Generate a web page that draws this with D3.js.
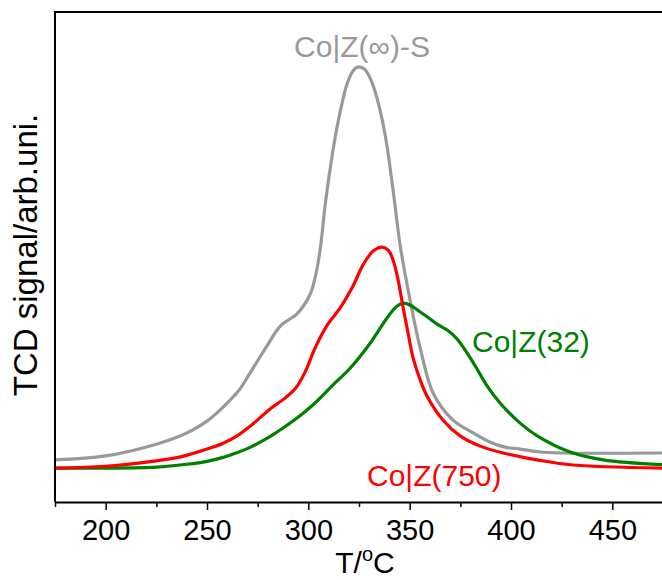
<!DOCTYPE html>
<html>
<head>
<meta charset="utf-8">
<script src="https://cdn.jsdelivr.net/npm/d3@7/dist/d3.min.js"></script>
<style>
  html, body { margin: 0; padding: 0; background: #fff; }
  svg { display: block; }
  text { font-family: "Liberation Sans", Arial, sans-serif; }
</style>
</head>
<body>
<script>
// Temperature (°C) and TCD signal (arb. units)
const grayT = [175,200,225,237,243,250,256,261.4,266,271.2,278.6,286.1,290.0,294.4,300.9,303.3,305.8,308.3,310.7,313.2,315.7,319.1,322.1,324.6,327.5,330.5,333.9,337.9,341.8,345.3,350.2,355.2,361.6,371.4,381.3,389.7,397.1,404.5,414.4,424.3,475];
const grayV = [8.6,9.4,11.8,13.5,14.7,16.5,18.6,20.8,22.9,26.3,31.2,35.9,37.1,38.4,42.4,45.7,51.4,60.6,67.8,74.3,79.6,85.3,88.0,88.8,88.4,86.5,82.4,74.9,63.7,52.4,41.2,31.4,22.2,16.7,14.1,12.2,11.2,10.8,10.2,10.0,10.0];

const redT = [175,200,225,237,250,258,264.8,273.7,281.1,288.5,293.9,298.4,303.3,309.3,315.7,321.6,327.0,332.0,336.4,339.4,341.8,344.3,346.8,349.2,351.7,355.2,358.6,366.5,374.9,384.8,396.1,412.9,429.2,475];
const redV = [6.9,7.3,8.4,9.2,10.8,12.0,13.5,16.3,19.0,21.2,23.3,26.5,31.4,36.1,39.6,43.7,48.4,51.2,52.0,51.4,49.4,45.3,39.6,34.5,29.4,24.9,21.6,16.7,13.5,11.4,10.0,8.6,7.6,6.9];

const greenT = [175,200,225,240,250,258,265,271,276.2,282,287.5,295.9,303.3,312.2,320.6,330.5,338.9,343.3,346.8,350.2,353.7,358.6,363.5,368.5,372.9,377.4,382.3,388.2,394.6,404.5,412.9,429.2,445.5,475];
const greenV = [6.9,6.9,7.1,7.7,8.3,9.1,10.1,11.1,12.2,13.6,15.1,17.6,20.2,23.9,27.3,32.4,37.6,39.8,40.6,40.2,39.2,37.8,36.3,35.1,33.5,31.0,27.8,23.7,20.2,16.1,13.5,10.2,8.6,7.6];

const seriesNames = ["Co|Z(\u221E)-S", "Co|Z(750)", "Co|Z(32)"];
const seriesColors = ["#999999", "#ff0000", "#008000"];
const xTicks = [200,250,300,350,400,450];
const xMinorTicks = [175,225,275,325,375,425,475];

(function () {
const W = 662, H = 580;
const mL = 55, mR = 663, mT = 12, mB = 502;

const svg = d3.select("body").append("svg").attr("width", W).attr("height", H);

const x = d3.scaleLinear().domain([175, 475]).range([mL, mR]);
const y = d3.scaleLinear().domain([0, 100]).range([mB, mT]);

svg.append("defs").append("clipPath").attr("id", "clip")
  .append("rect").attr("x", mL).attr("y", mT).attr("width", mR - mL).attr("height", mB - mT);

const line = d3.line().x(d => x(d[0])).y(d => y(d[1])).curve(d3.curveCatmullRom.alpha(0.5));

const series = [
  { name: seriesNames[0], color: seriesColors[0], data: d3.zip(grayT, grayV) },
  { name: seriesNames[2], color: seriesColors[2], data: d3.zip(greenT, greenV) },
  { name: seriesNames[1], color: seriesColors[1], data: d3.zip(redT, redV) }
];

const g = svg.append("g").attr("clip-path", "url(#clip)");
g.selectAll("path").data(series).join("path")
  .attr("d", d => line(d.data))
  .attr("fill", "none")
  .attr("stroke", d => d.color)
  .attr("stroke-width", 3.2)
  .attr("stroke-linejoin", "round");

// frame
svg.append("path")
  .attr("d", `M${mR},${mT}H${mL}V${mB}`)
  .attr("fill", "none").attr("stroke", "#000").attr("stroke-width", 2);

// bottom axis
const axis = d3.axisBottom(x).tickValues(xTicks).tickSize(8).tickSizeOuter(0).tickPadding(9).tickFormat(d3.format("d"));
const ax = svg.append("g").attr("transform", `translate(0,${mB})`).call(axis);
ax.select(".domain").attr("stroke-width", 2);
ax.selectAll(".tick line").attr("stroke-width", 1.5);
ax.selectAll(".tick text").attr("font-size", 29).attr("fill", "#000")
  .attr("font-family", "'Liberation Sans', Arial, sans-serif");

const minor = d3.axisBottom(x).tickValues(xMinorTicks).tickSize(5).tickSizeOuter(0).tickFormat("");
const mx = svg.append("g").attr("transform", `translate(0,${mB})`).call(minor);
mx.select(".domain").remove();
mx.selectAll(".tick line").attr("stroke-width", 1.5);

// axis labels
const xl = svg.append("text").attr("x", 365).attr("y", 573).attr("text-anchor", "middle")
  .attr("font-size", 30).attr("fill", "#000");
xl.append("tspan").text("T/");
xl.append("tspan").text("o").attr("font-size", 20).attr("dy", -12);
xl.append("tspan").text("C").attr("dy", 12);

svg.append("text").attr("transform", "translate(37,255) rotate(-90)")
  .attr("text-anchor", "middle").attr("font-size", 33).attr("fill", "#000")
  .text("TCD signal/arb.uni.");

// series labels
svg.append("text").attr("x", 362).attr("y", 57).attr("text-anchor", "middle")
  .attr("font-size", 30).attr("fill", seriesColors[0]).text(seriesNames[0]);
svg.append("text").attr("x", 472).attr("y", 352)
  .attr("font-size", 30).attr("fill", seriesColors[2]).text(seriesNames[2]);
svg.append("text").attr("x", 367).attr("y", 486)
  .attr("font-size", 30).attr("fill", seriesColors[1]).text(seriesNames[1]);
})();
</script>
</body>
</html>
